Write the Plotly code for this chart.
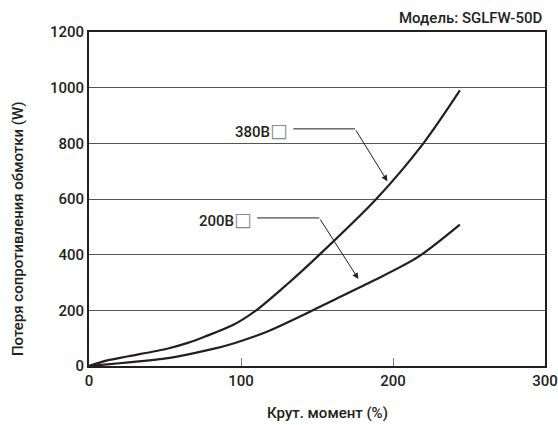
import plotly.graph_objects as go

# Data
torque_380 = [0, 12, 26, 52, 65, 76, 95, 110, 130, 152, 189, 220, 244]
loss_380 = [0, 20, 35, 63, 83, 105, 148, 200, 292, 402, 600, 800, 990]
torque_200 = [0, 12, 26, 52, 78, 95, 117, 148, 159, 187, 216, 244]
loss_200 = [0, 6, 13, 28, 57, 81, 123, 202, 232, 306, 390, 508]

y_ticks = [0, 200, 400, 600, 800, 1000, 1200]
x_ticks = [0, 100, 200, 300]

labels = ["380В", "200В"]
label_pos = [(132, 849), (108.5, 528)]
leader_start = [(134.4, 852), (110.7, 532)]
leader_corner = [(175, 852), (151.5, 532)]
leader_tip = [(196.3, 664), (177.2, 313)]

FONT = "Roboto, Liberation Sans, Arial, sans-serif"
INK = "#231f20"
FS = 15
W = 500
BOX = "<span style='font-family:DejaVu Sans;font-size:19px;font-weight:normal;color:#8a8a8a'>□</span>"

fig = go.Figure()
for xs, ys in [(torque_380, loss_380), (torque_200, loss_200)]:
    fig.add_trace(go.Scatter(x=xs, y=ys, mode="lines",
                             line=dict(color=INK, width=2.2, shape="spline", smoothing=0.8),
                             showlegend=False, hoverinfo="skip"))

font = dict(family=FONT, size=FS, color=INK, weight=W)

annotations = []
for lab, (lx, ly), (sx, sy), (cx, cy), (tx, ty) in zip(labels, label_pos, leader_start, leader_corner, leader_tip):
    fig.add_trace(go.Scatter(x=[sx, cx], y=[sy, cy], mode="lines",
                             line=dict(color=INK, width=1), showlegend=False, hoverinfo="skip"))
    annotations.append(dict(x=lx, y=ly, xref="x", yref="y", text=lab + BOX, showarrow=False,
                            xanchor="right", yanchor="middle", font=font))
    annotations.append(dict(x=tx, y=ty, ax=cx, ay=cy, xref="x", yref="y", axref="x", ayref="y",
                            text="", showarrow=True, arrowhead=2, arrowsize=1.2, arrowwidth=1,
                            arrowcolor=INK, standoff=0))

annotations.append(dict(x=1.0, y=1.0, xref="paper", yref="paper", yshift=14,
                        text="Модель: SGLFW-50D", showarrow=False, xanchor="right", yanchor="middle",
                        font=font))
annotations.append(dict(x=0.524, y=0, xref="paper", yref="paper", yshift=-47,
                        text="Крут. момент (%)", showarrow=False, xanchor="center", yanchor="middle",
                        font=font))
annotations.append(dict(x=0, y=0.41, xref="paper", yref="paper", xshift=-71,
                        text="Потеря сопротивления обмотки (W)", showarrow=False, textangle=-90,
                        xanchor="center", yanchor="middle", font=font))

fig.update_layout(
    width=558, height=425,
    margin=dict(l=89, r=13, t=32, b=59),
    paper_bgcolor="white", plot_bgcolor="white",
    font=font,
    annotations=annotations,
    hovermode=False,
    xaxis=dict(range=[0, 300], tickvals=x_ticks, showgrid=False, zeroline=False, automargin=False,
               showline=True, linecolor=INK, linewidth=2, mirror=True,
               ticks="inside", ticklen=8, tickcolor="#777", tickwidth=1,
               tickfont=font),
    yaxis=dict(range=[0, 1200], tickvals=y_ticks, showgrid=True, gridcolor="#555", gridwidth=1,
               zeroline=False, showline=True, linecolor=INK, linewidth=2, mirror=True, automargin=False,
               ticks="", tickfont=font),
)

fig.write_html("out.html", config={"displayModeBar": False},
               post_script="document.body.style.margin='0';")
